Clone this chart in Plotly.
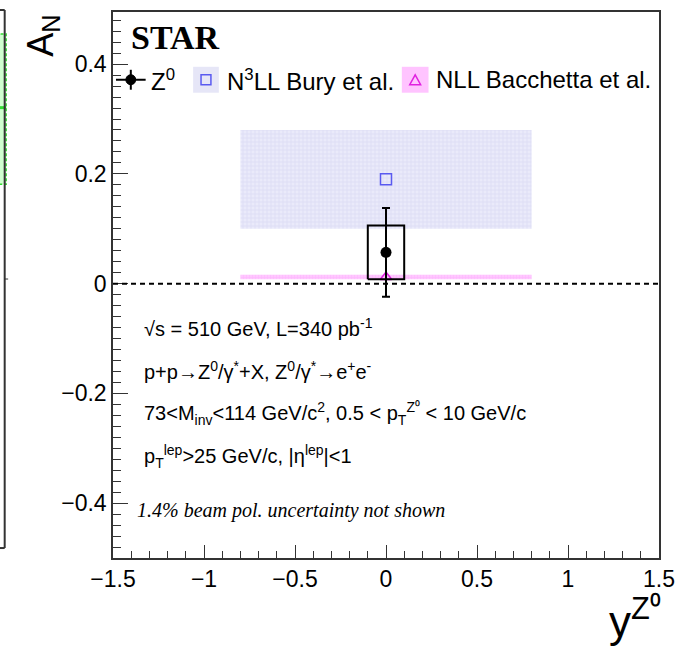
import numpy as np
import plotly.graph_objects as go

# ---- measured asymmetry (single rapidity bin) ----
y_rap = [0.0]
a_n = [0.057]
a_n_stat = [0.081]
a_n_sys = [0.049]
y_rap_halfwidth = [0.1]

# ---- theory predictions: [low edge, central, high edge] over the rapidity span ----
theory_rap_span = [-0.8, 0.8]
n3ll_bury = [0.10, 0.19, 0.28]
nll_bacchetta = [0.008, 0.012, 0.016]

# ---- axis ticks ----
x_tick_vals = [-1.5, -1.0, -0.5, 0.0, 0.5, 1.0, 1.5]
x_tick_text = ["\u22121.5", "\u22121", "\u22120.5", "0", "0.5", "1", "1.5"]
y_tick_vals = [-0.4, -0.3, -0.2, -0.1, 0.0, 0.1, 0.2, 0.3, 0.4]
y_tick_text = ["\u22120.4", "", "\u22120.2", "", "0", "", "0.2", "", "0.4"]

W, H = 685, 646
ML, MR, MT, MB = 113, 20, 10, 88
PW, PH = W - ML - MR, H - MT - MB
SANS = "Liberation Sans"
SERIF = "Liberation Serif"
FRAME = "#333333"


def px(x):
    return (x - ML) / PW


def py(y):
    return (H - MB - y) / PH


fig = go.Figure()

# N3LL band and central value
lo, mid, hi = n3ll_bury
x0, x1 = theory_rap_span
fig.add_trace(go.Scatter(
    x=[x0, x1, x1, x0, x0], y=[lo, lo, hi, hi, lo], mode="lines",
    fill="toself", fillcolor="rgba(226,226,246,1)",
    fillpattern=dict(shape="+", fgcolor="rgba(200,200,236,1)",
                     bgcolor="rgba(234,234,250,1)", size=4, solidity=0.3),
    line=dict(width=0), hoverinfo="skip", showlegend=False))

# NLL band
lo2, mid2, hi2 = nll_bacchetta
fig.add_trace(go.Scatter(
    x=[x0, x1, x1, x0, x0], y=[lo2, lo2, hi2, hi2, lo2], mode="lines",
    fill="toself", fillcolor="rgba(255,190,255,1)",
    fillpattern=dict(shape="+", fgcolor="rgba(250,160,250,1)",
                     bgcolor="rgba(255,200,255,1)", size=3, solidity=0.3),
    line=dict(width=0), hoverinfo="skip", showlegend=False))

fig.add_trace(go.Scatter(
    x=[0.0], y=[mid], mode="markers",
    marker=dict(symbol="square-open", size=11, color="#5a5af0",
                line=dict(width=1.5)), showlegend=False))
fig.add_trace(go.Scatter(
    x=[0.0], y=[mid2], mode="markers",
    marker=dict(symbol="triangle-up-open", size=10, color="#e020e0",
                line=dict(width=1.5)), showlegend=False))

# zero line
fig.add_shape(type="line", xref="x", yref="y", x0=-1.5, x1=1.5, y0=0, y1=0,
              line=dict(color="black", width=2, dash="5px,4px"))

# systematic box
for xc, yc, s, dx in zip(y_rap, a_n, a_n_sys, y_rap_halfwidth):
    fig.add_trace(go.Scatter(
        x=[xc - dx, xc + dx, xc + dx, xc - dx, xc - dx],
        y=[yc - s, yc - s, yc + s, yc + s, yc - s], mode="lines",
        line=dict(color="black", width=2), hoverinfo="skip", showlegend=False))

# data point with statistical error
fig.add_trace(go.Scatter(
    x=y_rap, y=a_n, mode="markers",
    error_y=dict(type="data", array=a_n_stat, color="black", thickness=2,
                 width=4),
    marker=dict(symbol="circle", size=11, color="black"), showlegend=False))

axis_common = dict(showline=True, linecolor=FRAME, linewidth=1.5, mirror=True,
                   ticks="inside", tickcolor=FRAME, tickwidth=1,
                   showgrid=False, zeroline=False,
                   tickfont=dict(family=SANS, size=23, color="black"))

fig.update_xaxes(range=[-1.5, 1.5], tickmode="array", tickvals=x_tick_vals,
                 ticktext=x_tick_text, ticklen=13,
                 minor=dict(ticks="inside", ticklen=7, tickcolor=FRAME,
                            tickvals=list(np.round(np.arange(-1.5, 1.51, 0.1), 2)),
                            showgrid=False),
                 **axis_common)
fig.update_yaxes(range=[-0.5, 0.495], tickmode="array", tickvals=y_tick_vals,
                 ticktext=y_tick_text, ticklen=15,
                 minor=dict(ticks="inside", ticklen=8, tickcolor=FRAME,
                            tickvals=list(np.round(np.arange(-0.48, 0.49, 0.02), 2)),
                            showgrid=False),
                 **axis_common)

ann = []


def text(x, y, s, size=20, family=SANS, xanchor="left", yanchor="middle",
         angle=0):
    ann.append(dict(x=px(x), y=py(y), xref="paper", yref="paper", text=s,
                    showarrow=False, xanchor=xanchor, yanchor=yanchor,
                    textangle=angle,
                    font=dict(family=family, size=size, color="black")))


# axis titles
text(42, 34, "A<sub>N</sub>", size=36, xanchor="center", angle=-90)
text(669, 648, "y<sup>Z\u2070</sup>", size=44, xanchor="right",
     yanchor="bottom")

text(129, 36, "<b>STAR</b>", size=34, family=SERIF)

# legend
LY = 78
fig.add_shape(type="line", xref="paper", yref="paper", x0=px(116), x1=px(146),
              y0=py(LY), y1=py(LY), line=dict(color="black", width=2))
fig.add_shape(type="line", xref="paper", yref="paper", x0=px(131), x1=px(131),
              y0=py(LY - 10), y1=py(LY + 10), line=dict(color="black", width=2))
fig.add_shape(type="circle", xref="paper", yref="paper", x0=px(126), x1=px(136),
              y0=py(LY - 5), y1=py(LY + 5), fillcolor="black",
              line=dict(color="black", width=1))
text(149, LY, "Z<sup>0</sup>", size=24)

fig.add_shape(type="rect", xref="paper", yref="paper", x0=px(194), x1=px(220),
              y0=py(LY - 13), y1=py(LY + 13), fillcolor="#e6e6f7",
              line=dict(width=0))
fig.add_shape(type="rect", xref="paper", yref="paper", x0=px(202), x1=px(212),
              y0=py(LY - 5), y1=py(LY + 5), fillcolor="rgba(0,0,0,0)",
              line=dict(color="#5a5af0", width=1.5))
text(226, LY, "N<sup>3</sup>LL Bury et al.", size=24)

fig.add_shape(type="rect", xref="paper", yref="paper", x0=px(405), x1=px(432),
              y0=py(LY - 13), y1=py(LY + 13), fillcolor="#ffc4ff",
              line=dict(width=0))
fig.add_shape(type="path", xref="paper", yref="paper",
              path=f"M {px(413)} {py(LY + 5)} L {px(424)} {py(LY + 5)} "
                   f"L {px(418.5)} {py(LY - 5)} Z",
              fillcolor="rgba(0,0,0,0)", line=dict(color="#e020e0", width=1.5))
text(438, LY, "NLL Bacchetta et al.", size=24)

# kinematics / selection
text(142, 327, "\u221as = 510 GeV, L=340 pb<sup>-1</sup>")
text(142, 370, "p+p\u2192Z<sup>0</sup>/\u03b3<sup>*</sup>+X, "
               "Z<sup>0</sup>/\u03b3<sup>*</sup>\u2192e<sup>+</sup>e<sup>-</sup>")
text(142, 413, "73&lt;M<sub>inv</sub>&lt;114 GeV/c<sup>2</sup>, "
               "0.5 &lt; p<sub>T</sub><sup>Z\u2070</sup> &lt; 10 GeV/c")
text(142, 456, "p<sub>T</sub><sup>lep</sup>&gt;25 GeV/c, "
               "|\u03b7<sup>lep</sup>|&lt;1")
text(135, 510, "<i>1.4% beam pol. uncertainty not shown</i>", size=20,
     family=SERIF)

# edge of the neighbouring panel
fig.add_shape(type="rect", xref="paper", yref="paper", x0=px(-2), x1=px(5),
              y0=py(183), y1=py(32), fillcolor="rgba(120,255,120,0.35)",
              line=dict(color="#33dd33", width=1.5, dash="3px,2px"))
fig.add_shape(type="line", xref="paper", yref="paper", x0=px(-2), x1=px(5),
              y0=py(106), y1=py(106), line=dict(color="#33dd33", width=3))
fig.add_shape(type="line", xref="paper", yref="paper", x0=px(3.5), x1=px(3.5),
              y0=py(8), y1=py(548), line=dict(color=FRAME, width=2))
fig.add_shape(type="line", xref="paper", yref="paper", x0=px(-2), x1=px(3.5),
              y0=py(548), y1=py(548), line=dict(color=FRAME, width=2))
fig.add_shape(type="line", xref="paper", yref="paper", x0=px(-2), x1=px(3.5),
              y0=py(8), y1=py(8), line=dict(color=FRAME, width=2))
fig.add_shape(type="line", xref="paper", yref="paper", x0=px(3.5), x1=px(7),
              y0=py(278), y1=py(278), line=dict(color=FRAME, width=1))

fig.update_layout(width=W, height=H, margin=dict(l=ML, r=MR, t=MT, b=MB),
                  paper_bgcolor="white", plot_bgcolor="white",
                  annotations=ann, showlegend=False)

fig.write_html("out.html")
